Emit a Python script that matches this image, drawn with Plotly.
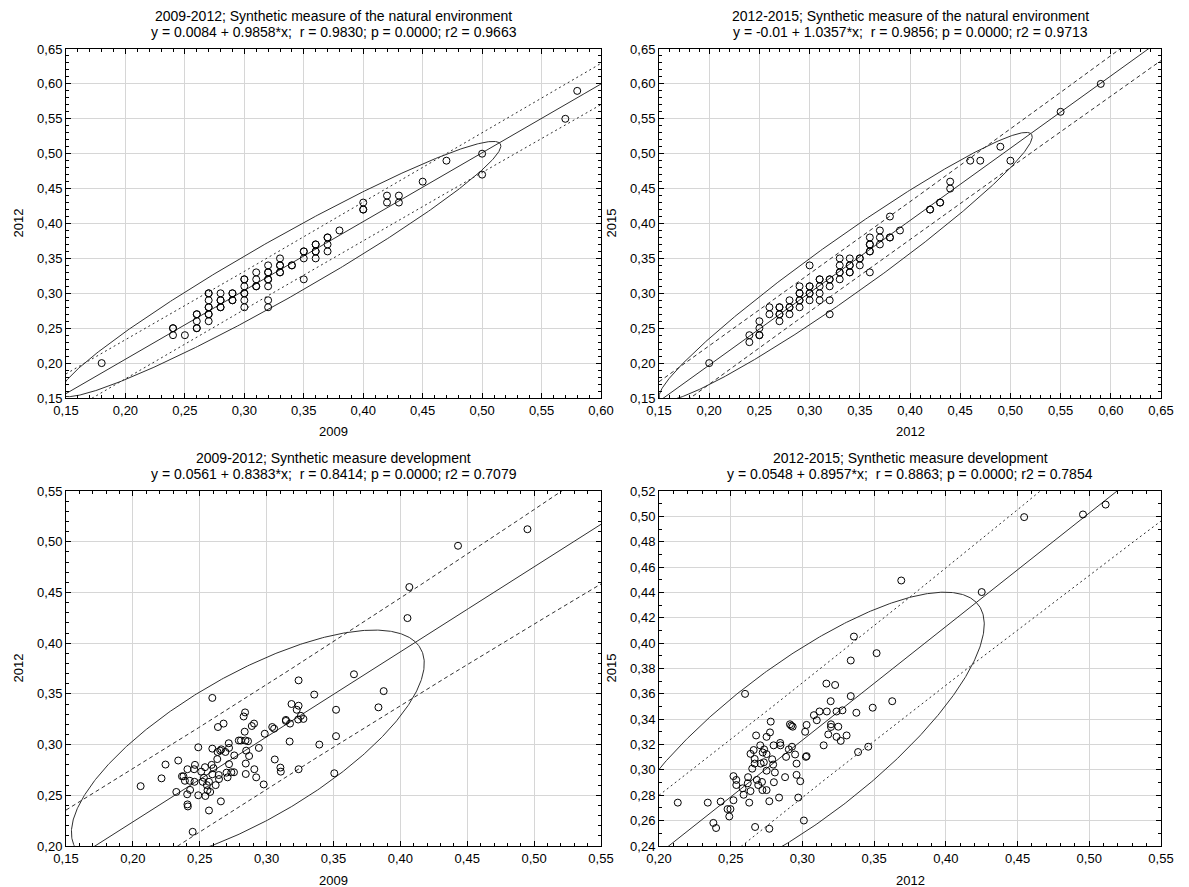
import numpy as np
import plotly.graph_objects as go

# ---------------- data ----------------
# Panel 1: natural environment, 2009 (x) vs 2012 (y)
nat_0912_x = [0.18,
              0.24, 0.24, 0.24,
              0.25,
              0.26, 0.26, 0.26, 0.26, 0.26,
              0.27, 0.27, 0.27, 0.27, 0.27, 0.27, 0.27, 0.27,
              0.28, 0.28, 0.28, 0.28, 0.28,
              0.29, 0.29, 0.29, 0.29,
              0.30, 0.30, 0.30, 0.30, 0.30, 0.30, 0.30,
              0.31, 0.31, 0.31, 0.31,
              0.32, 0.32, 0.32, 0.32, 0.32, 0.32, 0.32, 0.32,
              0.33, 0.33, 0.33, 0.33, 0.33,
              0.34, 0.34,
              0.35, 0.35, 0.35, 0.35,
              0.36, 0.36, 0.36, 0.36, 0.36,
              0.37, 0.37, 0.37, 0.37,
              0.38,
              0.40, 0.40, 0.40,
              0.42, 0.42,
              0.43, 0.43,
              0.45, 0.47, 0.50, 0.50, 0.57, 0.58]
nat_0912_y = [0.20,
              0.25, 0.25, 0.24,
              0.24,
              0.27, 0.27, 0.26, 0.25, 0.25,
              0.30, 0.30, 0.29, 0.28, 0.28, 0.27, 0.27, 0.26,
              0.30, 0.29, 0.29, 0.28, 0.28,
              0.30, 0.30, 0.29, 0.29,
              0.32, 0.32, 0.31, 0.30, 0.30, 0.29, 0.28,
              0.33, 0.32, 0.31, 0.31,
              0.34, 0.33, 0.33, 0.32, 0.32, 0.31, 0.29, 0.28,
              0.35, 0.34, 0.34, 0.33, 0.33,
              0.34, 0.34,
              0.36, 0.36, 0.35, 0.32,
              0.37, 0.37, 0.36, 0.36, 0.35,
              0.38, 0.38, 0.37, 0.36,
              0.39,
              0.43, 0.42, 0.42,
              0.44, 0.43,
              0.44, 0.43,
              0.46, 0.49, 0.50, 0.47, 0.55, 0.59]

# Panel 2: natural environment, 2012 (x) vs 2015 (y)
nat_1215_x = [0.20,
              0.24, 0.24,
              0.25, 0.25, 0.25, 0.25,
              0.26, 0.26,
              0.27, 0.27, 0.27, 0.27, 0.27,
              0.28, 0.28, 0.28, 0.28,
              0.29, 0.29, 0.29, 0.29, 0.29, 0.29,
              0.30, 0.30, 0.30, 0.30, 0.30, 0.30,
              0.31, 0.31, 0.31, 0.31, 0.31,
              0.32, 0.32, 0.32, 0.32, 0.32,
              0.33, 0.33, 0.33, 0.33, 0.33,
              0.34, 0.34, 0.34, 0.34, 0.34,
              0.35, 0.35, 0.35,
              0.36, 0.36, 0.36, 0.36, 0.36, 0.36,
              0.37, 0.37, 0.37,
              0.38, 0.38, 0.38,
              0.39,
              0.42, 0.42,
              0.43, 0.43,
              0.44, 0.44,
              0.46, 0.47, 0.49, 0.50, 0.55, 0.59]
nat_1215_y = [0.20,
              0.24, 0.23,
              0.26, 0.25, 0.24, 0.24,
              0.28, 0.27,
              0.28, 0.28, 0.27, 0.27, 0.26,
              0.29, 0.28, 0.28, 0.27,
              0.31, 0.30, 0.30, 0.29, 0.29, 0.28,
              0.34, 0.31, 0.31, 0.30, 0.30, 0.29,
              0.32, 0.32, 0.31, 0.30, 0.29,
              0.32, 0.32, 0.31, 0.29, 0.27,
              0.35, 0.34, 0.33, 0.33, 0.32,
              0.35, 0.34, 0.34, 0.33, 0.33,
              0.35, 0.35, 0.34,
              0.38, 0.37, 0.37, 0.36, 0.36, 0.33,
              0.39, 0.38, 0.37,
              0.41, 0.38, 0.38,
              0.39,
              0.42, 0.42,
              0.43, 0.43,
              0.46, 0.45,
              0.49, 0.49, 0.51, 0.49, 0.56, 0.60]

# Panel 3: development, 2009 (x) vs 2012 (y)
dev_0912_x = [0.2058, 0.2214, 0.2244, 0.2339, 0.2325, 0.2367, 0.2378, 0.2389, 0.2408, 0.2406,
              0.2408, 0.2411, 0.2425, 0.2428, 0.2447, 0.2464, 0.2461, 0.2458, 0.2489, 0.2489,
              0.2511, 0.2522, 0.2531, 0.2539, 0.2542, 0.2553, 0.2558, 0.2569, 0.2578, 0.2569,
              0.2589, 0.2594, 0.2594, 0.2594, 0.2603, 0.2619, 0.2631, 0.2636, 0.2633, 0.2642,
              0.2644, 0.2653, 0.2661, 0.2658, 0.2678, 0.2692, 0.2700, 0.2708, 0.2717, 0.2719,
              0.2719, 0.2736, 0.2756, 0.2758, 0.2792, 0.2808, 0.2828, 0.2839, 0.2836, 0.2842,
              0.2847, 0.2844, 0.2844, 0.2861, 0.2869, 0.2889, 0.2906, 0.2908, 0.2922, 0.2942,
              0.2978, 0.2986, 0.3042, 0.3056, 0.3061, 0.3103, 0.3106, 0.3144, 0.3144, 0.3172,
              0.3175, 0.3186, 0.3225, 0.3239, 0.3239, 0.3236, 0.3239, 0.3256, 0.3275, 0.3356,
              0.3394, 0.3506, 0.3519, 0.3519, 0.3653, 0.3836, 0.3875, 0.4053, 0.4067, 0.4431,
              0.4950]
dev_0912_y = [0.2590, 0.2667, 0.2803, 0.2843, 0.2533, 0.2687, 0.2687, 0.2643, 0.2757, 0.2510,
              0.2410, 0.2390, 0.2643, 0.2553, 0.2140, 0.2800, 0.2633, 0.2757, 0.2973, 0.2500,
              0.2733, 0.2633, 0.2673, 0.2777, 0.2493, 0.2600, 0.2550, 0.2350, 0.2533, 0.2633,
              0.2800, 0.3460, 0.2960, 0.2707, 0.2767, 0.2600, 0.2857, 0.3173, 0.2927, 0.2700,
              0.2660, 0.2940, 0.2953, 0.2440, 0.3207, 0.2927, 0.2723, 0.2677, 0.3013, 0.2967,
              0.2807, 0.2727, 0.2727, 0.2893, 0.3040, 0.3040, 0.3277, 0.3317, 0.3127, 0.3040,
              0.2940, 0.2813, 0.2710, 0.3033, 0.2887, 0.3183, 0.3207, 0.2757, 0.2677, 0.2967,
              0.2607, 0.3107, 0.3173, 0.3157, 0.2853, 0.2773, 0.2733, 0.3243, 0.3233, 0.3030,
              0.3207, 0.3400, 0.3343, 0.3633, 0.3383, 0.3247, 0.2757, 0.3283, 0.3253, 0.3493,
              0.3000, 0.2717, 0.3343, 0.3083, 0.3693, 0.3367, 0.3527, 0.4247, 0.4553, 0.4960,
              0.5123]

# Panel 4: development, 2012 (x) vs 2015 (y)
dev_1215_x = [0.2131, 0.2340, 0.2379, 0.2398, 0.2430, 0.2478, 0.2498, 0.2490, 0.2519, 0.2519,
              0.2539, 0.2539, 0.2583, 0.2590, 0.2600, 0.2619, 0.2621, 0.2629, 0.2638, 0.2638,
              0.2650, 0.2660, 0.2667, 0.2667, 0.2670, 0.2677, 0.2682, 0.2692, 0.2706, 0.2709,
              0.2718, 0.2721, 0.2723, 0.2733, 0.2731, 0.2750, 0.2750, 0.2750, 0.2750, 0.2769,
              0.2769, 0.2774, 0.2779, 0.2789, 0.2796, 0.2799, 0.2801, 0.2808, 0.2837, 0.2845,
              0.2847, 0.2879, 0.2886, 0.2905, 0.2913, 0.2922, 0.2932, 0.2927, 0.2949, 0.2959,
              0.2959, 0.2971, 0.2985, 0.3010, 0.3019, 0.3024, 0.3029, 0.3029, 0.3080, 0.3100,
              0.3119, 0.3148, 0.3167, 0.3170, 0.3180, 0.3197, 0.3199, 0.3199, 0.3228, 0.3238,
              0.3238, 0.3250, 0.3267, 0.3279, 0.3308, 0.3337, 0.3337, 0.3359, 0.3376, 0.3388,
              0.3459, 0.3490, 0.3517, 0.3626, 0.3689, 0.4250, 0.4546, 0.4956, 0.5114]
dev_1215_y = [0.2742, 0.2742, 0.2582, 0.2542, 0.2750, 0.2691, 0.2691, 0.2633, 0.2951, 0.2761,
              0.2921, 0.2881, 0.2855, 0.2804, 0.3600, 0.2895, 0.2943, 0.2742, 0.3127, 0.2833,
              0.3010, 0.3157, 0.3087, 0.3050, 0.2550, 0.3272, 0.2921, 0.2881, 0.3194, 0.3050,
              0.2905, 0.2841, 0.3138, 0.3162, 0.3060, 0.3261, 0.3125, 0.2994, 0.2841, 0.2753,
              0.2536, 0.3296, 0.3381, 0.3084, 0.3042, 0.3194, 0.2903, 0.2980, 0.2782, 0.3213,
              0.3194, 0.2943, 0.3103, 0.3162, 0.3360, 0.3349, 0.3341, 0.3183, 0.3122, 0.3050,
              0.2961, 0.2782, 0.2911, 0.2601, 0.3301, 0.3103, 0.3109, 0.3355, 0.3432, 0.3392,
              0.3461, 0.3194, 0.3681, 0.3461, 0.3280, 0.3542, 0.3360, 0.3339, 0.3670, 0.3461,
              0.3261, 0.3341, 0.3229, 0.3470, 0.3272, 0.3863, 0.3582, 0.4052, 0.3451, 0.3141,
              0.3183, 0.3491, 0.3921, 0.3542, 0.4494, 0.4403, 0.4994, 0.5015, 0.5093]

# regression coefficients as printed in the titles
coef_nat_0912 = (0.0084, 0.9858)
coef_nat_1215 = (-0.01, 1.0357)
coef_dev_0912 = (0.0561, 0.8383)
coef_dev_1215 = (0.0548, 0.8957)

title_line1 = ["2009-2012; Synthetic measure of the natural environment",
               "2012-2015; Synthetic measure of the natural environment",
               "2009-2012; Synthetic measure development",
               "2012-2015; Synthetic measure development"]
title_line2 = ["y = 0.0084 + 0.9858*x;  r = 0.9830; p = 0.0000; r2 = 0.9663",
               "y = -0.01 + 1.0357*x;  r = 0.9856; p = 0.0000; r2 = 0.9713",
               "y = 0.0561 + 0.8383*x;  r = 0.8414; p = 0.0000; r2 = 0.7079",
               "y = 0.0548 + 0.8957*x;  r = 0.8863; p = 0.0000; r2 = 0.7854"]
x_titles = ["2009", "2012", "2009", "2012"]
y_titles = ["2012", "2015", "2012", "2015"]

T_CRIT = 1.987                       # t quantile, 95 % prediction band
ELLIPSE_COEF = 0.96                  # ellipse coverage coefficient
K2 = -2 * np.log(1 - ELLIPSE_COEF)   # chi-square (2 df) quantile

W, H = 1189, 887
# panel frames in pixels (left, right, top, bottom)
frames = [(58, 593, 41, 390), (651, 1153, 41, 390),
          (58, 593, 483, 838), (651, 1153, 483, 838)]
xranges = [(0.15, 0.60), (0.15, 0.65), (0.15, 0.55), (0.20, 0.55)]
yranges = [(0.15, 0.65), (0.15, 0.65), (0.20, 0.55), (0.24, 0.52)]
ydticks = [0.05, 0.05, 0.05, 0.02]
band_dash = ["2px,3px", "4px,3px", "4px,3px", "2px,3px"]

panels = [(nat_0912_x, nat_0912_y, coef_nat_0912),
          (nat_1215_x, nat_1215_y, coef_nat_1215),
          (dev_0912_x, dev_0912_y, coef_dev_0912),
          (dev_1215_x, dev_1215_y, coef_dev_1215)]

FONT = "Liberation Sans, Arial, sans-serif"
LINE_COL = "#303030"
TICK_SIZE = 13
TITLE_SIZE = 14

fig = go.Figure()
layout = dict(width=W, height=H, paper_bgcolor="white", plot_bgcolor="white",
              margin=dict(l=0, r=0, t=0, b=0, autoexpand=False), showlegend=False,
              separators=", ", font=dict(family=FONT, size=TICK_SIZE, color="black"))
annotations = []

for i, (px, py, (a, b)) in enumerate(panels):
    k = "" if i == 0 else str(i + 1)
    xa, ya = "x" + k, "y" + k
    l, r, t, btm = frames[i]
    x0, x1 = xranges[i]
    y0, y1 = yranges[i]
    X = np.array(px)
    Y = np.array(py)
    n = len(X)

    # regression line + 95 % prediction bands
    xs = np.linspace(x0, x1, 300)
    yfit = a + b * xs
    resid = Y - (a + b * X)
    s = np.sqrt(np.sum(resid ** 2) / (n - 2))
    xbar, ybar = X.mean(), Y.mean()
    sxx = np.sum((X - xbar) ** 2)
    half = T_CRIT * s * np.sqrt(1 + 1 / n + (xs - xbar) ** 2 / sxx)

    # normal ellipse with its long axis laid on the regression line
    theta = np.arctan(b)
    u = np.array([np.cos(theta), np.sin(theta)])
    v = np.array([-np.sin(theta), np.cos(theta)])
    proj_u = (X - xbar) * u[0] + (Y - ybar) * u[1]
    semi_a = np.sqrt(K2) * proj_u.std(ddof=1)
    semi_b = np.sqrt(K2) * s
    th = np.linspace(0, 2 * np.pi, 600)
    ex = xbar + semi_a * np.cos(th) * u[0] + semi_b * np.sin(th) * v[0]
    ey = ybar + semi_a * np.cos(th) * u[1] + semi_b * np.sin(th) * v[1]

    fig.add_trace(go.Scatter(x=xs, y=yfit, mode="lines", xaxis=xa, yaxis=ya,
                             line=dict(color=LINE_COL, width=1)))
    for sign in (1, -1):
        fig.add_trace(go.Scatter(x=xs, y=yfit + sign * half, mode="lines", xaxis=xa, yaxis=ya,
                                 line=dict(color=LINE_COL, width=1, dash=band_dash[i])))
    fig.add_trace(go.Scatter(x=ex, y=ey, mode="lines", xaxis=xa, yaxis=ya,
                             line=dict(color=LINE_COL, width=1)))
    fig.add_trace(go.Scatter(x=X, y=Y, mode="markers", xaxis=xa, yaxis=ya,
                             marker=dict(symbol="circle-open", size=7,
                                         color="black", line=dict(width=1, color="black"))))

    xdom = [l / W, r / W]
    ydom = [1 - btm / H, 1 - t / H]
    xt = np.round(np.arange(x0, x1 + 1e-9, 0.05), 2)
    yt = np.round(np.arange(y0, y1 + 1e-9, ydticks[i]), 2)
    common = dict(showgrid=True, gridcolor="#d6d6d6", gridwidth=1, zeroline=False,
                  showline=True, linecolor="black", linewidth=1, mirror="ticks",
                  ticks="inside", ticklen=5, tickcolor="black", tickformat=".2f",
                  automargin=False,
                  tickfont=dict(family=FONT, size=TICK_SIZE, color="black"))
    layout["xaxis" + k] = dict(common, domain=xdom, range=[x0 - 1e-6, x1 + 1e-6], tickvals=xt,
                               anchor=ya,
                               minor=dict(ticks="inside", ticklen=3, dtick=0.01, tick0=0,
                                          tickcolor="black", showgrid=False))
    layout["yaxis" + k] = dict(common, domain=ydom, range=[y0 - 1e-6, y1 + 1e-6], tickvals=yt,
                               anchor=xa,
                               minor=dict(ticks="inside", ticklen=3, dtick=0.01, tick0=0,
                                          tickcolor="black", showgrid=False))

    cx = (xdom[0] + xdom[1]) / 2
    annotations.append(dict(text=title_line1[i], x=cx, y=1 - (t - 33) / H, xref="paper", yref="paper",
                            xanchor="center", yanchor="middle", showarrow=False,
                            font=dict(family=FONT, size=TITLE_SIZE, color="black")))
    annotations.append(dict(text=title_line2[i], x=cx, y=1 - (t - 17) / H, xref="paper", yref="paper",
                            xanchor="center", yanchor="middle", showarrow=False,
                            font=dict(family=FONT, size=TITLE_SIZE, color="black")))
    annotations.append(dict(text=x_titles[i], x=cx, y=1 - (btm + 34) / H, xref="paper", yref="paper",
                            xanchor="center", yanchor="middle", showarrow=False,
                            font=dict(family=FONT, size=TICK_SIZE, color="black")))
    annotations.append(dict(text=y_titles[i], x=(l - 48) / W, y=(ydom[0] + ydom[1]) / 2,
                            xref="paper", yref="paper", xanchor="center", yanchor="middle",
                            textangle=-90, showarrow=False,
                            font=dict(family=FONT, size=TICK_SIZE, color="black")))

layout["annotations"] = annotations
fig.update_layout(**layout)
fig.write_html("out.html")
